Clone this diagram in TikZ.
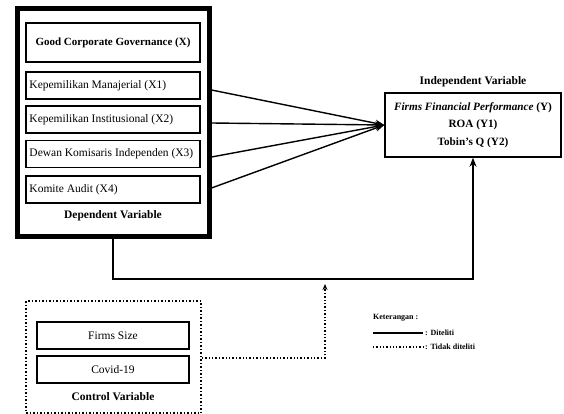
\documentclass[tikz,border=0pt]{standalone}
\usepackage{fontspec}
\setmainfont{Liberation Serif}
\usetikzlibrary{arrows.meta,fit}
\begin{document}
\begin{tikzpicture}[x=1pt,y=-1pt,
  ibox/.style={draw,line width=1.5pt,minimum width=174pt,minimum height=27pt,inner sep=0pt,font=\fontsize{11.5}{12}\selectfont},
  itxt/.style={anchor=west,inner sep=0pt,font=\fontsize{11.5}{12}\selectfont},
  cbox/.style={draw,line width=1.5pt,minimum width=152pt,minimum height=27pt,inner sep=0pt,font=\fontsize{11.5}{12}\selectfont},
  lbl/.style={font=\bfseries\fontsize{11.5}{12}\selectfont,inner sep=0pt},
  leg/.style={font=\bfseries\fontsize{8}{9}\selectfont,anchor=west,inner sep=0pt},
  conn/.style={line width=1.4pt,-{Stealth[length=9pt,width=7pt]}},
  dconn/.style={line width=1.4pt,dotted,-{Stealth[length=6pt,width=5pt]}}]
\useasboundingbox (0,0) rectangle (564,414);
% outer dependent box
\node[draw,line width=5pt,minimum width=192pt,minimum height=227pt,inner sep=0pt] (outer) at (113,122.5) {};
\node[ibox,minimum height=39pt,font=\bfseries\fontsize{11}{12}\selectfont] (gcg) at (113,42.5) {Good Corporate Governance (X)};
\node[ibox] (x1) at (113,85.5) {};
\node[ibox] (x2) at (113,119.5) {};
\node[ibox] (x3) at (113,154) {};
\node[ibox] (x4) at (113,189.5) {};
\node[itxt] (t1) at ([xshift=4pt]x1.west) {Kepemilikan Manajerial (X1)};
\node[itxt] (t2) at ([xshift=4pt]x2.west) {Kepemilikan Institusional (X2)};
\node[itxt] (t3) at ([xshift=4pt]x3.west) {Dewan Komisaris Independen (X3)};
\node[itxt] (t4) at ([xshift=4pt]x4.west) {Komite Audit (X4)};
\node[lbl] (dep) at (113,216) {Dependent Variable};
% Y box
\node[draw,line width=1.5pt,minimum width=176pt,minimum height=64pt,inner sep=0pt,align=center,font=\bfseries\fontsize{11.2}{17.5}\selectfont] (ybox) at (473,125)
  {\textit{Firms Financial Performance} (Y)\\ROA (Y1)\\Tobin's Q (Y2)};
\node[lbl] (indep) at (473,82) {Independent Variable};
% arrows
\coordinate (a1) at (outer.east |- 0,90);
\coordinate (a2) at (outer.east |- 0,123);
\coordinate (a3) at (outer.east |- 0,157);
\coordinate (a4) at (outer.east |- 0,188);
\coordinate (tip) at (ybox.west);
\foreach \s in {a1,a2,a3,a4} \draw[conn] (\s) -- (tip);
\draw[conn] (outer.south) -- (113,279) -| (ybox.south);
% control box
\node[draw,dotted,line width=1.5pt,minimum width=175pt,minimum height=112pt,inner sep=0pt] (ctrl) at (113.5,357) {};
\node[cbox] (size) at (113,335.5) {Firms Size};
\node[cbox] (covid) at (113,369.5) {Covid-19};
\node[lbl] (cv) at (113,397) {Control Variable};
\coordinate (c0) at (ctrl.east |- 0,358);
\coordinate (c1) at (325,284);
\draw[dconn] (c0) -| (c1);
% legend
\node[leg] (ket) at (373,318) {Keterangan :};
\coordinate (l1a) at (373,333);
\coordinate (l1b) at (423,333);
\draw[line width=1.3pt] (l1a) -- (l1b);
\node[leg] (dit) at (425,333) {: Diteliti};
\coordinate (l2a) at (373,347);
\coordinate (l2b) at (423,347);
\draw[line width=1.3pt,dotted] (l2a) -- (l2b);
\node[leg] (tdit) at (425,347) {: Tidak diteliti};
\end{tikzpicture}
\end{document}
